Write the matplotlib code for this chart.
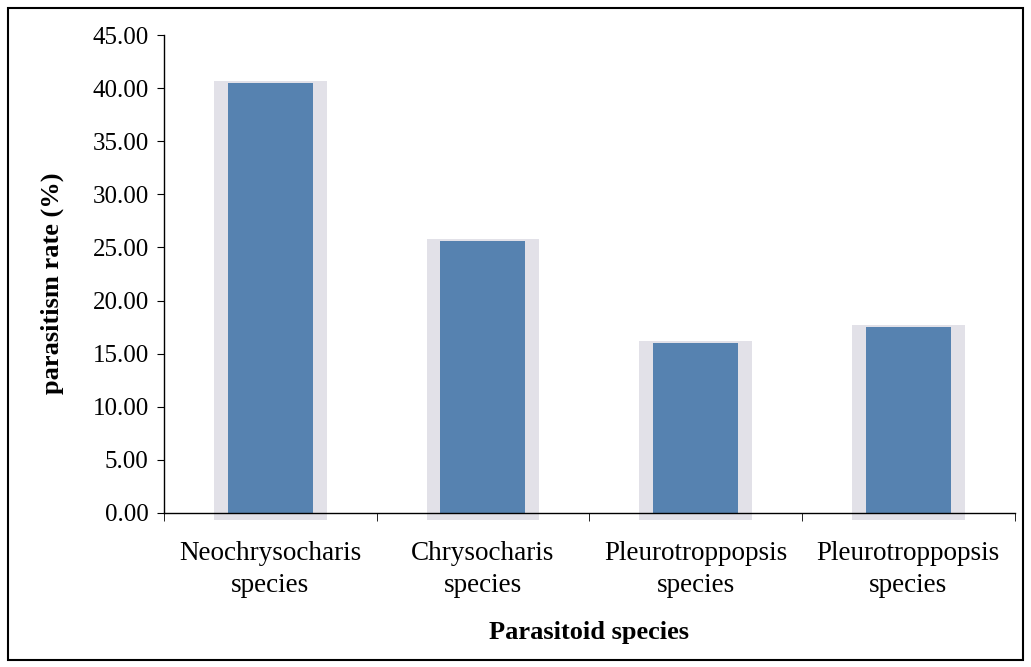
import matplotlib.pyplot as plt
from matplotlib.patches import Rectangle
import numpy as np

# data
categories = ['Neochrysocharis\nspecies', 'Chrysocharis\nspecies',
              'Pleurotroppopsis\nspecies', 'Pleurotroppopsis\nspecies']
rates = [40.5, 25.6, 16.0, 17.5]
yticks = [0, 5, 10, 15, 20, 25, 30, 35, 40, 45]

plt.rcParams['font.family'] = ['Liberation Serif', 'DejaVu Serif']

fig = plt.figure(figsize=(10.31, 6.67), dpi=100)
ax = fig.add_axes([0.159, 0.231, 0.825, 0.7165])

x = np.arange(len(categories))
# soft grey shadow behind each bar
ax.bar(x, np.array(rates) + 0.9, width=0.53, bottom=-0.7, color='#e2e1e8',
       zorder=1, clip_on=False)
ax.bar(x, rates, width=0.40, color='#5682b0', zorder=2)

ax.set_xlim(-0.5, len(categories) - 0.5)
ax.set_ylim(0, 45)
ax.set_yticks(yticks)
ax.set_yticklabels([f'{v:.2f}' for v in yticks], fontsize=18)
ax.set_xticks(x)
ax.set_xticklabels(categories, fontsize=19.5, linespacing=1.4)
ax.tick_params(axis='x', length=0, pad=20)
# boundary ticks between categories
ax.set_xticks(np.arange(-0.5, len(categories)), minor=True)
ax.tick_params(axis='x', which='minor', length=6, direction='out')
ax.tick_params(axis='y', length=5, direction='out', pad=6)

for s in ['top', 'right']:
    ax.spines[s].set_visible(False)
ax.spines['left'].set_linewidth(1.0)
ax.spines['bottom'].set_linewidth(1.0)

ax.set_ylabel('parasitism rate (%)', fontsize=19, fontweight='bold')
ax.yaxis.set_label_coords(-0.118, 0.48)
ax.set_xlabel('Parasitoid species', fontsize=19, fontweight='bold', labelpad=16)

# black frame around the whole figure
fig.patches.append(Rectangle((0.008, 0.011), 0.984, 0.977, transform=fig.transFigure,
                             fill=False, edgecolor='black', linewidth=1.5))

fig.savefig('out.png', dpi=100)
